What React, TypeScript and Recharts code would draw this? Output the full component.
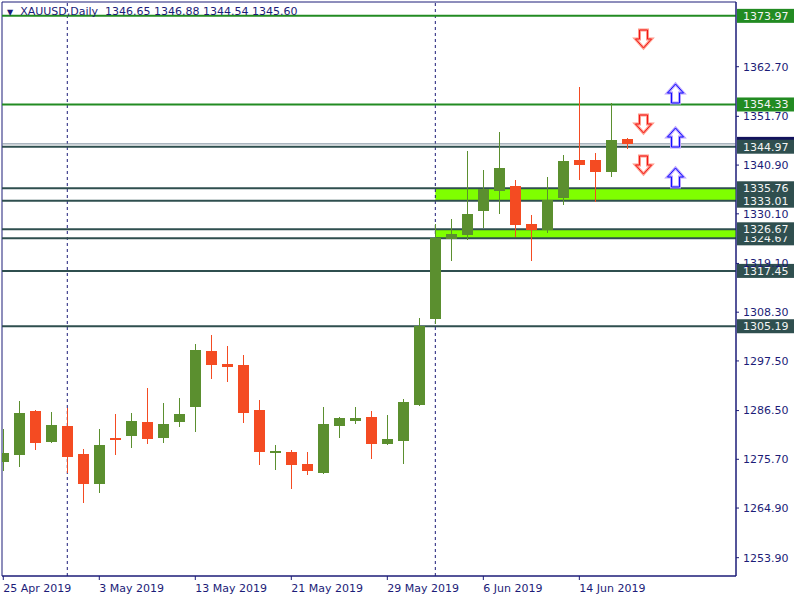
import {
  ComposedChart,
  Bar,
  Scatter,
  XAxis,
  YAxis,
  ReferenceLine,
  ReferenceArea,
} from "recharts";

const FONT = "'DejaVu Sans', Tahoma, sans-serif";
const NAVY = "#1c1c78";
const UP = "#5b8f2f";
const DOWN = "#f44b22";
const SLATE = "#2f4f4f";
const LINE_GREEN = "#228b22";
const BAND = "#7fff00";

// daily bars, 25 Apr 2019 .. 19 Jun 2019
const opens = [1275.2, 1276.7, 1286.4, 1279.6, 1283.1, 1276.9, 1270.3, 1280.4, 1280.9, 1284.0, 1280.5, 1284.0, 1287.4, 1299.7, 1296.8, 1296.6, 1286.6, 1277.3, 1277.3, 1274.7, 1272.7, 1283.1, 1284.2, 1285.1, 1279.1, 1279.8, 1287.7, 1306.8, 1324.6, 1325.3, 1330.8, 1335.2, 1336.3, 1327.9, 1326.6, 1333.7, 1342.0, 1342.0, 1339.4, 1346.65];
const highs = [1282.4, 1288.6, 1286.6, 1286.2, 1287.1, 1278.0, 1282.4, 1285.7, 1286.0, 1291.5, 1288.2, 1289.3, 1301.3, 1303.3, 1300.8, 1298.8, 1288.9, 1278.9, 1277.8, 1277.3, 1287.3, 1285.1, 1287.3, 1286.4, 1285.5, 1289.1, 1307.0, 1327.9, 1329.0, 1344.0, 1339.8, 1348.2, 1337.6, 1329.8, 1338.3, 1343.1, 1358.2, 1343.6, 1354.7, 1346.88];
const lows = [1273.2, 1274.1, 1277.8, 1279.4, 1272.7, 1266.1, 1268.3, 1276.7, 1278.1, 1279.2, 1279.4, 1282.9, 1281.8, 1293.6, 1292.9, 1283.8, 1274.4, 1273.3, 1269.1, 1272.2, 1272.5, 1280.4, 1283.5, 1275.8, 1278.9, 1274.7, 1287.6, 1305.7, 1319.7, 1324.4, 1327.0, 1330.1, 1325.0, 1319.7, 1325.9, 1332.1, 1337.7, 1332.8, 1338.3, 1344.54];
const closes = [1277.1, 1286.0, 1279.4, 1283.3, 1276.3, 1270.3, 1278.9, 1280.0, 1284.2, 1280.3, 1283.5, 1285.7, 1299.9, 1296.7, 1296.2, 1286.0, 1277.4, 1277.6, 1274.4, 1273.2, 1283.5, 1284.9, 1284.9, 1279.1, 1280.2, 1288.4, 1305.2, 1324.7, 1325.6, 1330.1, 1335.6, 1340.3, 1327.7, 1326.6, 1333.2, 1341.8, 1341.0, 1339.4, 1346.5, 1345.60];

const dateTicks = [0, 6, 12, 18, 24, 30, 36];
const dateLabels = ["25 Apr 2019", "3 May 2019", "13 May 2019", "21 May 2019", "29 May 2019", "6 Jun 2019", "14 Jun 2019"];
const priceTicks = [1253.9, 1264.9, 1275.7, 1286.5, 1297.5, 1308.3, 1319.1, 1330.1, 1340.9, 1351.7, 1362.7];

// month separators
const separators = [4, 27];

const slateLevels = [1305.19, 1317.45, 1324.67, 1326.67, 1333.01, 1335.76];
const bidPrice = 1345.6;
const topLevels = [1344.97];
const greenLevels = [1354.33, 1373.97];

const bands = [
  [1333.01, 1335.76],
  [1324.67, 1326.67],
];
const bandStart = 27;

const arrowIdx = [40, 40, 40, 42, 42, 42];
const arrowPrice = [1368.77, 1350.11, 1340.81, 1356.87, 1347.12, 1338.15];
const arrowDir = ["down", "down", "down", "up", "up", "up"];

const X_MIN = -0.08;
const X_MAX = 45.79;
const Y_MIN = 1249.84;
const Y_MAX = 1377.04;

const candles = opens.map((o, i) => ({ i, o, h: highs[i], l: lows[i], c: closes[i] }));
const arrows = arrowIdx.map((i, k) => ({ i, p: arrowPrice[k], dir: arrowDir[k] }));

const Candle = (props: any) => {
  const { x, y, width, height, payload } = props;
  if (!payload || !height) return null;
  const { o, h, l, c } = payload;
  const k = height / (h - l);
  const py = (v: number) => y + (h - v) * k;
  const cx = Math.floor(x + width / 2) + 0.5;
  const color = c >= o ? UP : DOWN;
  const top = Math.round(py(Math.max(o, c)));
  const bot = Math.round(py(Math.min(o, c)));
  return (
    <g>
      <line x1={cx} x2={cx} y1={Math.round(y)} y2={Math.round(y + height)} stroke={color} strokeWidth={1} />
      <rect x={cx - 5.5} y={top} width={11} height={Math.max(bot - top, 2)} fill={color} />
    </g>
  );
};

const Arrow = (props: any) => {
  const { cx, cy, payload } = props;
  if (cx == null || cy == null) return null;
  const x = Math.round(cx) + 0.5;
  const y = Math.round(cy);
  if (payload.dir === "down") {
    const d = `M${x - 4},${y - 9} L${x + 4},${y - 9} L${x + 4},${y} L${x + 8},${y} L${x},${y + 9} L${x - 8},${y} L${x - 4},${y} Z`;
    return (
      <g>
        <path d={d} fill="#fff" stroke="#ff9a8a" strokeWidth={3} />
        <path d={d} fill="none" stroke="#f01818" strokeWidth={1} />
      </g>
    );
  }
  const d = `M${x - 4},${y + 10} L${x + 4},${y + 10} L${x + 4},${y} L${x + 8},${y} L${x},${y - 9} L${x - 8},${y} L${x - 4},${y} Z`;
  return (
    <g>
      <path d={d} fill="#fff" stroke="#b8a0ff" strokeWidth={3} />
      <path d={d} fill="none" stroke="#1010ff" strokeWidth={1} />
    </g>
  );
};

const DateTick = (props: any) => {
  const { x, y, payload } = props;
  const label = dateLabels[dateTicks.indexOf(payload.value)];
  return (
    <text x={x} y={y} dy={10} textAnchor="start" fill={NAVY} fontSize={11} fontFamily={FONT}>
      {label}
    </text>
  );
};

const priceLabel = (bg: string, value: number) => (props: any) => {
  const { viewBox } = props;
  if (!viewBox) return null;
  const ly = viewBox.y;
  const lx = viewBox.x + viewBox.width + 1;
  return (
    <g>
      <rect x={lx} y={ly - 7} width={57} height={14} fill={bg} />
      <text x={lx + 6} y={ly + 4} fill="#f4f4f4" fontSize={11} fontFamily={FONT}>
        {value.toFixed(2)}
      </text>
    </g>
  );
};

export default function App() {
  return (
    <div style={{ position: "absolute", left: 0, top: 0, width: 800, height: 600, background: "#fff" }}>
      <ComposedChart
        width={800}
        height={600}
        data={candles}
        margin={{ top: 2, right: 2, bottom: 2, left: 2 }}
      >
        <XAxis
          type="number"
          dataKey="i"
          domain={[X_MIN, X_MAX]}
          allowDataOverflow
          ticks={dateTicks}
          tick={DateTick}
          tickSize={4}
          height={22}
          stroke={NAVY}
          interval={0}
        />
        <YAxis
          orientation="right"
          type="number"
          domain={[Y_MIN, Y_MAX]}
          allowDataOverflow
          ticks={priceTicks}
          tickFormatter={(v: number) => v.toFixed(2)}
          tick={{ fill: NAVY, fontSize: 11, fontFamily: FONT }}
          tickSize={3}
          tickMargin={4}
          width={62}
          stroke={NAVY}
          interval={0}
        />
        <ReferenceArea
          x1={X_MIN}
          x2={X_MAX}
          y1={Y_MIN}
          y2={Y_MAX}
          fill="none"
          stroke={NAVY}
          strokeWidth={1}
        />
        {bands.map(([a, b], k) => (
          <ReferenceArea
            key={`band-${k}`}
            x1={bandStart}
            x2={X_MAX}
            y1={a}
            y2={b}
            fill={BAND}
            fillOpacity={1}
            stroke="none"
          />
        ))}
        {separators.map((s) => (
          <ReferenceLine key={`sep-${s}`} x={s} stroke={NAVY} strokeDasharray="3 3" zIndex={150} />
        ))}
        {slateLevels.map((v) => (
          <ReferenceLine key={`lv-${v}`} y={v} stroke={SLATE} strokeWidth={2} label={priceLabel(SLATE, v)} zIndex={250} />
        ))}
        <ReferenceLine y={bidPrice} stroke="#778899" strokeWidth={1} label={priceLabel("#12125c", bidPrice)} zIndex={250} />
        {topLevels.map((v) => (
          <ReferenceLine key={`tl-${v}`} y={v} stroke={SLATE} strokeWidth={2} label={priceLabel(SLATE, v)} zIndex={250} />
        ))}
        {greenLevels.map((v) => (
          <ReferenceLine key={`gl-${v}`} y={v} stroke={LINE_GREEN} strokeWidth={2} label={priceLabel(LINE_GREEN, v)} zIndex={250} />
        ))}
        <Bar
          dataKey={(d: any) => [d.l, d.h]}
          shape={<Candle />}
          barSize={11}
          isAnimationActive={false}
        />
        <Scatter data={arrows} dataKey="p" shape={<Arrow />} isAnimationActive={false} />
      </ComposedChart>
      <div
        style={{
          position: "absolute",
          left: 7,
          top: 5,
          fontFamily: FONT,
          fontSize: 11,
          color: NAVY,
          whiteSpace: "pre",
          lineHeight: "13px",
        }}
      >
        <span style={{ fontSize: 8, marginRight: 7 }}>▼</span>
        {"XAUUSD,Daily  1346.65 1346.88 1344.54 1345.60"}
      </div>
    </div>
  );
}
